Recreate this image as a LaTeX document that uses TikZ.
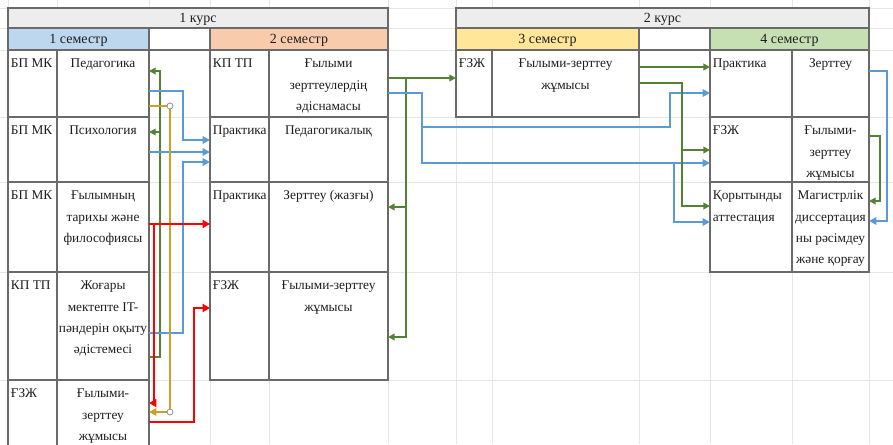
\documentclass[tikz,border=0pt]{standalone}
\usepackage{fontspec}
\setmainfont{Liberation Serif}
\usetikzlibrary{arrows.meta}
\definecolor{bordc}{HTML}{6A6A6A}
\definecolor{gridc}{HTML}{E6E6E6}
\definecolor{hdrgray}{HTML}{EDEDED}
\definecolor{hdrblue}{HTML}{BDD7EE}
\definecolor{hdrorange}{HTML}{F8CBAD}
\definecolor{hdryellow}{HTML}{FFE699}
\definecolor{hdrgreen}{HTML}{C6E0B4}
\definecolor{lnblue}{HTML}{5B9BD5}
\definecolor{lngreen}{HTML}{548235}
\definecolor{lngold}{HTML}{C9A02A}
\definecolor{lnred}{HTML}{FF0000}
\definecolor{txtc}{HTML}{1E1E1E}
\newcommand\mkcell[6][white]{\node[cellbox, fill=#1, minimum width={(#5-#3)*0.75pt}, minimum height={(#6-#4)*0.75pt}] (#2) at ({(#3+#5)/2},{(#4+#6)/2}) {};}
\newcommand\celltl[2]{\node[ltxt] (#1t) at ([xshift=2pt,yshift=-2pt]#1.north west) {\strut #2};}
\newcommand\celltc[2]{\node[ctxt] (#1t) at ([yshift=-2pt]#1.north) {\strut #2};}
\newcommand\hdrtext[2]{\node[htxt] (#1t) at ([yshift=-3.4pt]#1.center) {#2};}
\begin{document}
\begin{tikzpicture}[x=0.75pt,y=-0.75pt,
  cellbox/.style={draw=bordc, line width=1.1pt, inner sep=0pt, outer sep=0pt, rectangle},
  ltxt/.style={inner sep=0pt, align=left, anchor=north west, font=\fontsize{10}{16}\selectfont, text=txtc},
  ctxt/.style={inner sep=0pt, align=center, anchor=north, font=\fontsize{10}{16}\selectfont, text=txtc},
  htxt/.style={inner sep=0pt, anchor=base, font=\fontsize{10.5}{12}\selectfont, text=txtc},
  gridline/.style={draw=gridc, line width=0.6pt},
  bconn/.style={draw=lnblue, line width=2.2pt, -{Triangle[length=5.5pt,width=5.5pt]}},
  gconn/.style={draw=lngreen, line width=1.3pt, -{Triangle[length=5pt,width=5pt]}},
  rconn/.style={draw=lnred, line width=2pt, -{Triangle[length=5.5pt,width=6pt]}},
  oconn/.style={draw=lngold, line width=2pt, -{Triangle[length=5.5pt,width=5.5pt]}},
  handle/.style={circle, draw=gray, fill=white, line width=0.5pt, inner sep=0pt, minimum size=4.5pt}
]
\useasboundingbox (0,0) rectangle (893,444);
\clip (0,0) rectangle (893,444);
\fill[white] (0,0) rectangle (893,444);
% spreadsheet grid
\foreach \yy in {8,28,50,117,182,272,380} {\draw[gridline] (0,\yy) -- (893,\yy);}
\foreach \xx in {8,57,149,210,269,388,456,492,639,710,792,869} {\draw[gridline] (\xx,0) -- (\xx,444);}

% course bars
\mkcell[hdrgray]{k1}{8}{8}{388}{28}
\mkcell[hdrgray]{k2}{456}{8}{869}{28}
\hdrtext{k1}{1 курс}
\hdrtext{k2}{2 курс}
% semester headers
\mkcell[hdrblue]{h1}{8}{28}{149}{50}
\mkcell{hg1}{149}{28}{210}{50}
\mkcell[hdrorange]{h2}{210}{28}{388}{50}
\mkcell[hdryellow]{h3}{456}{28}{639}{50}
\mkcell{hg2}{639}{28}{710}{50}
\mkcell[hdrgreen]{h4}{710}{28}{869}{50}
\hdrtext{h1}{1 семестр}
\hdrtext{h2}{2 семестр}
\hdrtext{h3}{3 семестр}
\hdrtext{h4}{4 семестр}

% 1 semester
\mkcell{s1r1a}{8}{50}{57}{117}   \mkcell{s1r1b}{57}{50}{149}{117}
\mkcell{s1r2a}{8}{117}{57}{182}  \mkcell{s1r2b}{57}{117}{149}{182}
\mkcell{s1r3a}{8}{182}{57}{272}  \mkcell{s1r3b}{57}{182}{149}{272}
\mkcell{s1r4a}{8}{272}{57}{380}  \mkcell{s1r4b}{57}{272}{149}{380}
\mkcell{s1r5a}{8}{380}{57}{470}  \mkcell{s1r5b}{57}{380}{149}{470}
\celltl{s1r1a}{БП МК} \celltc{s1r1b}{Педагогика}
\celltl{s1r2a}{БП МК} \celltc{s1r2b}{Психология}
\celltl{s1r3a}{БП МК} \celltc{s1r3b}{Ғылымның\\тарихы және\\философиясы}
\celltl{s1r4a}{КП ТП} \celltc{s1r4b}{Жоғары\\мектепте IT-\\пәндерін оқыту\\әдістемесі}
\celltl{s1r5a}{ҒЗЖ}   \celltc{s1r5b}{Ғылыми-\\зерттеу\\жұмысы}

% 2 semester
\mkcell{s2r1a}{210}{50}{269}{117}   \mkcell{s2r1b}{269}{50}{388}{117}
\mkcell{s2r2a}{210}{117}{269}{182}  \mkcell{s2r2b}{269}{117}{388}{182}
\mkcell{s2r3a}{210}{182}{269}{272}  \mkcell{s2r3b}{269}{182}{388}{272}
\mkcell{s2r4a}{210}{272}{269}{380}  \mkcell{s2r4b}{269}{272}{388}{380}
\celltl{s2r1a}{КП ТП}    \celltc{s2r1b}{Ғылыми\\зерттеулердің\\әдіснамасы}
\celltl{s2r2a}{Практика} \celltc{s2r2b}{Педагогикалық}
\celltl{s2r3a}{Практика} \celltc{s2r3b}{Зерттеу (жазғы)}
\celltl{s2r4a}{ҒЗЖ}      \celltc{s2r4b}{Ғылыми-зерттеу\\жұмысы}

% 3 semester
\mkcell{s3a}{456}{50}{492}{117} \mkcell{s3b}{492}{50}{639}{117}
\celltl{s3a}{ҒЗЖ} \celltc{s3b}{Ғылыми-зерттеу\\жұмысы}

% 4 semester
\mkcell{s4r1a}{710}{50}{792}{117}   \mkcell{s4r1b}{792}{50}{869}{117}
\mkcell{s4r2a}{710}{117}{792}{182}  \mkcell{s4r2b}{792}{117}{869}{182}
\mkcell{s4r3a}{710}{182}{792}{272}  \mkcell{s4r3b}{792}{182}{869}{272}
\celltl{s4r1a}{Практика} \celltc{s4r1b}{Зерттеу}
\celltl{s4r2a}{ҒЗЖ}      \celltc{s4r2b}{Ғылыми-\\зерттеу\\жұмысы}
\celltl{s4r3a}{Қорытынды\\аттестация} \celltc{s4r3b}{Магистрлік\\диссертация\\ны рәсімдеу\\және қорғау}

% ---- connectors, 1 -> 2 semester
\draw[gconn] (s1r4b.east |- 0,357) -- (160,357) -- (160,71) -- (s1r1b.east |- 0,71);
\draw[gconn] (160,132) -- (s1r2b.east |- 0,132);
\draw[bconn] (s1r1b.east |- 0,91) -- (183,91) -- (183,140) -- (s2r2a.west |- 0,140);
\draw[bconn] (s1r2b.east |- 0,152) -- (s2r2a.west |- 0,152);
\draw[bconn] (s1r4b.east |- 0,333) -- (183,333) -- (183,162) -- (s2r2a.west |- 0,162);
\draw[oconn] (s1r1b.east |- 0,106) -- (170,106) -- (170,412) -- (s1r5b.east |- 0,412);
\node[handle] (ho1) at (170,106) {};
\node[handle] (ho2) at (170,412) {};
\draw[rconn] (s1r3b.east |- 0,224) -- (s2r3a.west |- 0,224);
\draw[rconn] (154,224) -- (154,403) -- (s1r5b.east |- 0,403);
\draw[rconn] (s1r5b.east |- 0,422) -- (194,422) -- (194,308) -- (s2r4a.west |- 0,308);

% ---- 2 semester -> later
\draw[gconn] (s2r1b.east |- 0,78) -- (s3a.west |- 0,78);
\draw[gconn] (406,78) -- (406,337) -- (s2r4b.east |- 0,337);
\draw[gconn] (406,207) -- (s2r3b.east |- 0,207);
\draw[bconn] (s2r1b.east |- 0,93) -- (422,93) -- (422,163) -- (s4r2a.west |- 0,163);
\draw[bconn] (422,127) -- (670,127) -- (670,93) -- (s4r1a.west |- 0,93);
\draw[bconn] (674,163) -- (674,222) -- (s4r3a.west |- 0,222);

% ---- 3 semester -> 4 semester
\draw[gconn] (s3b.east |- 0,67) -- (s4r1a.west |- 0,67);
\draw[gconn] (s3b.east |- 0,83) -- (682,83) -- (682,206) -- (s4r3a.west |- 0,206);
\draw[gconn] (682,150) -- (s4r2a.west |- 0,150);

% ---- within 4 semester
\draw[bconn] (s4r1b.east |- 0,71) -- (887,71) -- (887,221) -- (s4r3b.east |- 0,221);
\draw[gconn] (s4r2b.east |- 0,136) -- (880,136) -- (880,201) -- (s4r3b.east |- 0,201);
\end{tikzpicture}
\end{document}
